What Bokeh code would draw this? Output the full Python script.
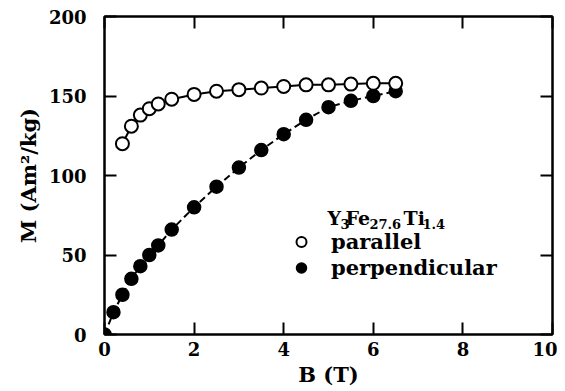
from bokeh.plotting import figure
from bokeh.models import Range1d, LinearAxis, FixedTicker, Label, Legend, LegendItem, ColumnDataSource
from bokeh.embed import file_html
from bokeh.resources import INLINE

# ---- data ----
par_B = [0.4, 0.6, 0.8, 1.0, 1.2, 1.5, 2.0, 2.5, 3.0, 3.5, 4.0, 4.5, 5.0, 5.5, 6.0, 6.5]
par_M = [120, 131, 138, 142, 145, 148, 151, 153, 154, 155, 156, 157, 157, 157.5, 158, 158]
perp_B = [0.0, 0.2, 0.4, 0.6, 0.8, 1.0, 1.2, 1.5, 2.0, 2.5, 3.0, 3.5, 4.0, 4.5, 5.0, 5.5, 6.0, 6.5]
perp_M = [0, 14, 25, 35, 43, 50, 56, 66, 80, 93, 105, 116, 126, 135, 143, 147, 150, 153]
x_ticks = [0, 2, 4, 6, 8, 10]
y_ticks = [0, 50, 100, 150, 200]
series_labels = ["parallel", "perpendicular"]
x_label = "B (T)"
y_label = "M (Am\u00b2/kg)"

FONT = "DejaVu Serif"
BLACK = "#000000"

p = figure(width=557, height=390, output_backend="svg", toolbar_location=None,
           x_range=Range1d(0, 10), y_range=Range1d(0, 200),
           min_border_left=104, min_border_right=5, min_border_top=16, min_border_bottom=56,
           x_axis_label=x_label, y_axis_label=y_label)
p.grid.visible = False
p.outline_line_color = BLACK
p.outline_line_width = 2
p.background_fill_color = "white"
p.border_fill_color = "white"

def style_axis(ax, ticks, show_labels):
    ax.ticker = FixedTicker(ticks=ticks)
    ax.axis_line_width = 2
    ax.axis_line_color = BLACK
    ax.major_tick_line_width = 2
    ax.major_tick_line_color = BLACK
    ax.major_tick_in = 12
    ax.major_tick_out = 0
    ax.minor_tick_line_color = None
    ax.major_label_text_font = FONT
    ax.major_label_text_font_style = "bold"
    ax.axis_label_text_font = FONT
    ax.axis_label_text_font_style = "bold"
    ax.axis_label_text_color = BLACK
    if show_labels:
        ax.major_label_text_color = BLACK
        ax.major_label_text_font_size = "18px"
        ax.axis_label_text_font_size = "21px"
    else:
        ax.major_label_text_color = None
        ax.major_label_text_font_size = "1px"
        ax.major_label_standoff = 0
        ax.axis_label = None

style_axis(p.xaxis[0], x_ticks, True)
style_axis(p.yaxis[0], y_ticks, True)
p.xaxis[0].major_label_standoff = 7
p.xaxis[0].axis_label_standoff = 3
p.yaxis[0].major_label_standoff = 18
p.yaxis[0].axis_label_standoff = 5

top_ax = LinearAxis()
right_ax = LinearAxis()
style_axis(top_ax, x_ticks, False)
style_axis(right_ax, y_ticks, False)
p.add_layout(top_ax, "above")
p.add_layout(right_ax, "right")

# ---- data renderers ----
src_par = ColumnDataSource(dict(x=par_B, y=par_M))
src_perp = ColumnDataSource(dict(x=perp_B, y=perp_M))

p.line("x", "y", source=src_perp, line_color=BLACK, line_width=2, line_dash="7 4")
r_perp = p.scatter("x", "y", source=src_perp, size=13, marker="circle",
                   fill_color=BLACK, line_color=BLACK, line_width=1.5)
p.line("x", "y", source=src_par, line_color=BLACK, line_width=2)
r_par = p.scatter("x", "y", source=src_par, size=13, marker="circle",
                  fill_color="white", line_color=BLACK, line_width=2)

legend = Legend(items=[LegendItem(label=series_labels[0], renderers=[r_par]),
                       LegendItem(label=series_labels[1], renderers=[r_perp])],
                location=(183, 54), orientation="vertical")
legend.border_line_color = None
legend.background_fill_alpha = 0
legend.padding = 0
legend.margin = 0
legend.spacing = 0
legend.glyph_width = 28
legend.glyph_height = 25
legend.label_height = 26
legend.label_standoff = 16
legend.label_text_font = FONT
legend.label_text_font_style = "bold"
legend.label_text_font_size = "21px"
legend.label_text_color = BLACK
p.add_layout(legend, "center")

# ---- legend title Y3Fe27.6Ti1.4 ----
def px2x(px):
    return (px - 104) * 10 / 448.0

def py2y(py):
    return (334 - py) * 200 / 318.0

title_parts = [("Y", 327, 217, "19px"), ("3", 340, 223, "13px"), ("Fe", 345, 217, "19px"),
               ("27.6", 369, 223, "13px"), ("Ti", 403, 217, "19px"), ("1.4", 422, 223, "13px")]
for txt, px, py, fs in title_parts:
    p.add_layout(Label(x=px2x(px), y=py2y(py), text=txt, text_font=FONT, text_font_style="bold",
                       text_font_size=fs, text_color=BLACK, text_baseline="alphabetic",
                       text_align="left"))

open("out.html", "w").write(file_html(p, INLINE))
